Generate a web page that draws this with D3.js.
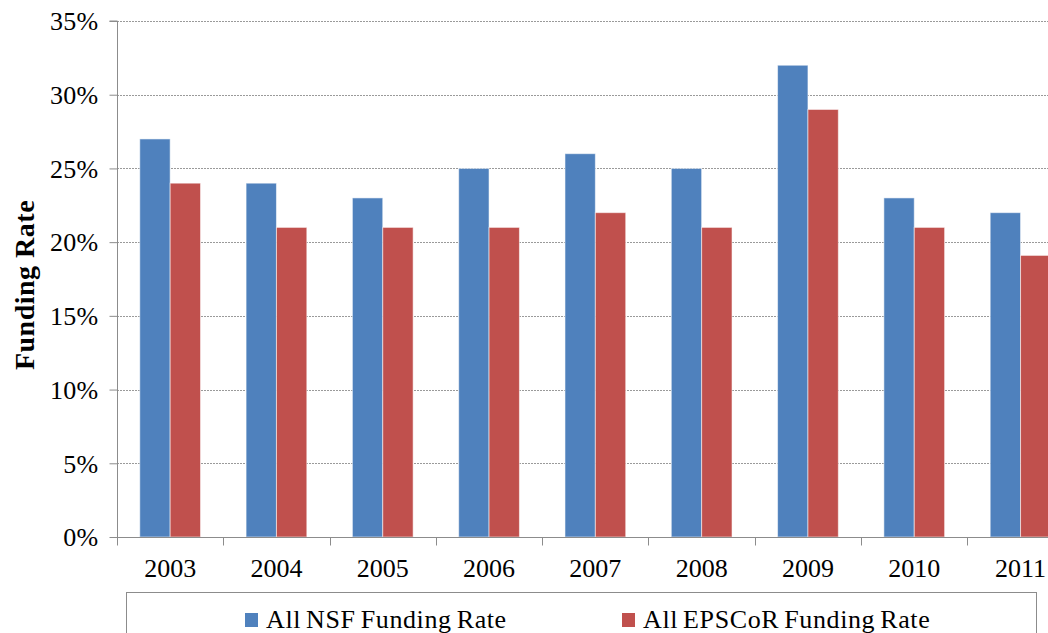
<!DOCTYPE html>
<html>
<head>
<meta charset="utf-8">
<script src="https://cdn.jsdelivr.net/npm/d3@7"></script>
<style>
  html, body { margin: 0; padding: 0; background: #fff; overflow: hidden; }
  svg { display: block; font-family: "Liberation Serif", "Times New Roman", serif; }
</style>
</head>
<body>
<svg id="chart" width="1048" height="633"></svg>
<script>
const years = ["2003","2004","2005","2006","2007","2008","2009","2010","2011"];
const nsfRate = [0.27, 0.24, 0.23, 0.25, 0.26, 0.25, 0.32, 0.23, 0.22];
const epscorRate = [0.24, 0.21, 0.21, 0.21, 0.22, 0.21, 0.29, 0.21, 0.191];
const seriesNames = ["All NSF Funding Rate", "All EPSCoR Funding Rate"];
const seriesColors = ["#4F81BD", "#C0504D"];
const yTicks = [0, 0.05, 0.10, 0.15, 0.20, 0.25, 0.30, 0.35];

const FONT = "Liberation Serif, Times New Roman, serif";
const svg = d3.select("#chart");
const plotLeft = 117, bandW = 106.3, plotTop = 21, plotBottom = 537;

const x = d3.scaleBand().domain(years).range([plotLeft, plotLeft + bandW * years.length]).paddingInner(0).paddingOuter(0);
const xs = d3.scaleBand().domain([0, 1]).range([0, x.bandwidth()]).paddingInner(0).paddingOuter(0.75);
const y = d3.scaleLinear().domain([0, 0.35]).range([plotBottom, plotTop]);

// gridlines
svg.append("g").selectAll("line").data(yTicks.filter(t => t > 0)).join("line")
  .attr("x1", plotLeft).attr("x2", 1048)
  .attr("y1", d => Math.round(y(d)) + 0.5).attr("y2", d => Math.round(y(d)) + 0.5)
  .attr("stroke", "#9a9a9a").attr("stroke-width", 1).attr("stroke-dasharray", "2,1");

// bars
const rows = years.map((yr, i) => ({ yr, vals: [nsfRate[i], epscorRate[i]] }));
const groups = svg.append("g").selectAll("g").data(rows).join("g")
  .attr("transform", d => `translate(${x(d.yr)},0)`);
groups.selectAll("rect").data(d => d.vals.map((v, k) => ({ v, k }))).join("rect")
  .attr("x", d => xs(d.k))
  .attr("width", xs.bandwidth())
  .attr("y", d => y(d.v))
  .attr("height", d => y(0) - y(d.v))
  .attr("fill", d => seriesColors[d.k])
  .attr("stroke", "rgba(255,255,255,0.55)")
  .attr("stroke-width", 1);

// y axis
const yAxis = d3.axisLeft(y).tickValues(yTicks).tickFormat(d3.format(".0%")).tickSize(8).tickPadding(11);
const yg = svg.append("g").attr("transform", `translate(${plotLeft + 0.5},0)`).call(yAxis)
  .attr("font-family", FONT).attr("font-size", 26);
yg.select(".domain").attr("stroke", "#8c8c8c").attr("d", `M-8,${y(0.35)}H0V${y(0)}`);
yg.selectAll(".tick line").attr("stroke", "#8c8c8c");
yg.selectAll(".tick text").attr("font-size", 26).attr("fill", "#000")
  .attr("font-family", FONT).attr("dy", "0.34em").attr("letter-spacing", "0.3px");

// x axis
const xAxis = d3.axisBottom(x).tickSize(0).tickPadding(0);
const xg = svg.append("g").attr("transform", `translate(0,${plotBottom + 0.5})`).call(xAxis)
  .attr("font-family", FONT).attr("font-size", 26);
xg.select(".domain").attr("stroke", "#8c8c8c").attr("d", `M${plotLeft},0H1048`);
xg.selectAll(".tick text").attr("font-size", 26).attr("fill", "#000")
  .attr("font-family", FONT).attr("y", 39).attr("dy", 0);
// boundary tick marks
const bounds = d3.range(years.length + 1).map(i => plotLeft + i * x.step());
xg.selectAll(".btick").data(bounds).join("line").attr("class", "btick")
  .attr("x1", d => Math.round(d) + 0.5).attr("x2", d => Math.round(d) + 0.5)
  .attr("y1", 0).attr("y2", 8).attr("stroke", "#8c8c8c");

// y title
svg.append("text")
  .attr("transform", `translate(34,285) rotate(-90)`)
  .attr("text-anchor", "middle")
  .attr("font-family", FONT)
  .attr("font-size", 28).attr("font-weight", "bold").attr("fill", "#000")
  .attr("letter-spacing", "0.5px")
  .text("Funding Rate");

// legend
svg.append("rect").attr("x", 126.5).attr("y", 592.5).attr("width", 910).attr("height", 60)
  .attr("fill", "none").attr("stroke", "#8c8c8c");
const legendX = [245, 622];
const lg = svg.append("g").selectAll("g").data(seriesNames).join("g")
  .attr("transform", (d, i) => `translate(${legendX[i]},0)`);
lg.append("rect").attr("x", 0).attr("y", 613).attr("width", 13).attr("height", 14)
  .attr("fill", (d, i) => seriesColors[i]);
lg.append("text").attr("x", 21).attr("y", 628).attr("font-size", 26).attr("fill", "#000")
  .attr("font-family", FONT)
  .attr("letter-spacing", "0.6px")
  .attr("word-spacing", "-2px")
  .text(d => d);
</script>
</body>
</html>
